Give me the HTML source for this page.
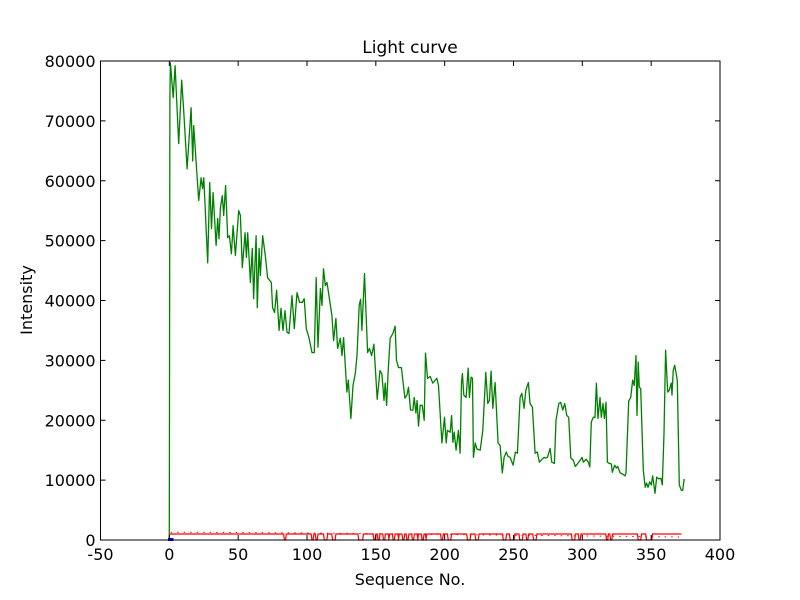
<!DOCTYPE html>
<html><head><meta charset="utf-8"><style>
html,body{margin:0;padding:0;background:#fff;}
svg{display:block;font-family:"DejaVu Sans","Liberation Sans",sans-serif;}
</style></head><body>
<svg id="chart" width="800" height="600" viewBox="0 0 800 600" xmlns="http://www.w3.org/2000/svg">
<rect x="0" y="0" width="800" height="600" fill="#fff"/>
<text x="410" y="53" font-size="17" text-anchor="middle">Light curve</text>
<text x="410" y="585" font-size="16" text-anchor="middle">Sequence No.</text>
<text x="32" y="300" font-size="16" text-anchor="middle" transform="rotate(-90 32 300)">Intensity</text>
<g id="plot"></g>
</svg>
<script>
const xTicks=[-50,0,50,100,150,200,250,300,350,400];
const yTicks=[0,10000,20000,30000,40000,50000,60000,70000,80000];
const greenSeq=[0,0.4,0.8,2.8,4.2,6.8,9.0,10.4,12.9,15.8,17.0,17.7,21.3,23.1,24.2,25.0,27.9,29.3,30.6,31.8,34.0,35.1,36.1,37.1,38.5,39.5,40.9,42.4,43.6,45.1,46.3,48.0,50.4,51.6,53.0,55.0,56.0,56.9,58.9,60.3,61.2,63.0,63.9,65.2,66.1,67.8,69.7,71.4,74.1,75.0,76.5,77.9,79.7,81.1,82.6,84.0,85.5,86.9,89.1,90.8,92.7,94.6,96.6,98.0,99.5,101.5,103.6,105.3,106.7,108.0,109.7,110.9,112.0,113.3,114.5,118.1,119.3,121.0,122.2,124.2,125.4,126.6,129.0,130.0,131.9,133.4,135.1,136.3,137.9,138.9,139.9,141.8,144.0,145.4,146.9,148.6,151.0,153.0,154.4,155.9,156.8,157.8,159.0,160.4,162.4,164.0,165.0,166.5,168.6,171.1,172.6,173.7,175.2,176.9,177.9,179.1,180.0,181.0,182.2,183.7,185.1,186.1,187.5,189.5,191.4,193.1,194.3,195.5,198.0,199.9,201.1,202.0,204.0,205.0,206.0,206.9,208.3,210.0,211.2,212.2,212.9,213.9,215.6,217.1,218.0,219.2,220.2,220.9,222.2,223.4,225.8,227.7,229.9,231.3,232.5,233.7,235.0,236.6,238.8,240.3,241.9,243.2,244.8,245.9,247.5,249.7,251.4,252.8,254.8,256.0,257.7,258.9,260.8,262.0,263.7,265.7,267.3,268.8,270.8,272.2,273.1,274.6,276.6,277.8,279.7,280.9,282.9,284.3,285.8,287.2,288.7,290.1,291.6,293.5,294.9,296.7,298.4,299.8,300.8,302.7,304.4,305.4,306.5,308.0,309.2,310.2,311.4,312.8,313.8,315.0,316.0,317.2,318.2,319.6,321.1,321.8,323.5,324.7,325.7,327.4,329.3,331.0,331.7,333.7,335.1,336.6,337.7,339.0,339.7,340.6,341.4,342.4,344.3,345.7,346.7,347.7,348.9,350.1,351.1,352.8,354.0,355.5,357.1,358.1,359.3,360.5,362.0,363.1,364.6,365.1,366.0,367.1,369.0,370.4,371.9,372.9,374.0];
const greenVal=[0,74000,79700,73900,79200,66200,76800,71700,62000,72200,63300,69200,56700,60500,58700,60500,46300,59700,52000,58000,49200,53700,50300,55500,57500,54200,59200,50500,50800,47800,52500,47500,55000,54200,45500,51300,47200,51300,43000,48700,40300,50800,38800,48700,44200,50800,47500,43800,43000,38800,38000,41700,35000,38700,35000,38300,34700,34500,40800,35300,41300,39700,39700,40300,35300,33700,31300,31300,43800,32200,42000,39200,45300,42500,43000,37500,33300,37000,32000,33700,30800,33800,24700,26700,20300,25800,27800,30800,39200,40200,35000,44500,31300,32000,30800,32700,23500,28300,27700,23300,26200,22500,28300,33700,34500,35700,30000,28800,28800,23700,24200,25500,21700,21700,23800,21200,23300,19000,22500,22500,20000,31200,27000,27300,26200,26700,27000,25800,16200,20500,16200,18300,18000,20800,16300,18000,15000,18300,14500,26300,27800,24200,23800,28700,23800,27200,27000,13800,16200,15200,15000,18300,28000,22800,23300,28200,22000,26300,16200,15800,11200,13800,14700,14000,13800,12500,14700,14500,23800,24500,22000,25000,26300,22800,22200,14500,14700,13000,13500,13800,13700,13800,15300,13000,12800,20000,22800,23000,21700,22800,20800,20500,13700,13300,12300,12800,13300,13800,13000,13500,13000,12200,19700,20500,20500,26200,20300,23800,20500,22800,20300,23000,13000,12800,12700,11300,12500,12000,12300,11200,11000,10700,11200,23200,23800,26700,25800,30800,20800,29700,25500,25300,11700,8800,9500,8800,9700,9200,10700,7800,10500,10200,10300,9200,17800,31700,24700,25000,26200,24200,28300,29200,26700,9200,8300,8300,10200];
const redDipStart=[83,103,106,112,118,137,148,151,155,159,162,166,169,172,176,180,183,186,197,202,216,222,242,247,254,259,264,292,297,317,320,340,346];
const redDipEnd=[85,105,108,115,121,141,150,153,157,160,164,167,171,174,178,181,185,187,199,205,219,225,245,251,257,261,267,295,299,319,322,343,351];
const redLevel=[1000];
const redStart=[0];
const redEnd=[372];
const dotSeq=[1,88,372];
const dotVal=[1300,1200,500];

const L=100.5,R=720,T=61,B=540;
const xMin=-50,xMax=400,yMin=0,yMax=80000;
const X=v=>L+(v-xMin)/(xMax-xMin)*(R-L);
const Y=v=>B-(v-yMin)/(yMax-yMin)*(B-T);
const NS='http://www.w3.org/2000/svg';
const g=document.getElementById('plot');
function mk(tag,attrs,parent){const e=document.createElementNS(NS,tag);for(const k in attrs)e.setAttribute(k,attrs[k]);(parent||g).appendChild(e);return e;}

// green series
let d='';
greenSeq.forEach((s,i)=>{d+=(i?'L':'M')+X(s).toFixed(1)+' '+Y(greenVal[i]).toFixed(1);});
const gl=mk('path',{d:d,fill:'none',stroke:'#008000','stroke-width':1.3,'stroke-linejoin':'round'});



// red solid series
let rd='M'+X(redStart[0])+' '+Y(redLevel[0]);
redDipStart.forEach((a,i)=>{const b=redDipEnd[i];
 rd+='L'+X(a)+' '+Y(redLevel[0])+'L'+X(a+0.6)+' '+Y(0)+'L'+X(b-0.6)+' '+Y(0)+'L'+X(b)+' '+Y(redLevel[0]);});
rd+='L'+X(redEnd[0])+' '+Y(redLevel[0]);
const rl=mk('path',{d:rd,fill:'none',stroke:'#ff0000','stroke-width':1.2});


let dd='';
dotSeq.forEach((s,i)=>{dd+=(i?'L':'M')+X(s)+' '+Y(dotVal[i]);});
const dl=mk('path',{d:dd,fill:'none',stroke:'#ff0000','stroke-width':1,'stroke-dasharray':'1.5,5'});


const bl=mk('rect',{x:X(-1),y:Y(0)-2,width:X(3)-X(-1),height:3,fill:'#0000ff'});



// axes frame
const fr=mk('rect',{x:L,y:T,width:R-L,height:B-T,fill:'none',stroke:'#000','stroke-width':1});


xTicks.forEach(t=>{const x=X(t);
 mk('line',{x1:x,x2:x,y1:B,y2:B-5,stroke:'#000'});
 mk('line',{x1:x,x2:x,y1:T,y2:T+5,stroke:'#000'});
 const tx=mk('text',{x:x,y:B+20,'font-size':16,'text-anchor':'middle'});tx.textContent=t;
 
 });
yTicks.forEach(t=>{const y=Y(t);
 mk('line',{x1:L,x2:L+5,y1:y,y2:y,stroke:'#000'});
 mk('line',{x1:R,x2:R-5,y1:y,y2:y,stroke:'#000'});
 const tx=mk('text',{x:L-5,y:y+6,'font-size':16,'text-anchor':'end'});tx.textContent=t;
 
 });
</script>
</body></html>
